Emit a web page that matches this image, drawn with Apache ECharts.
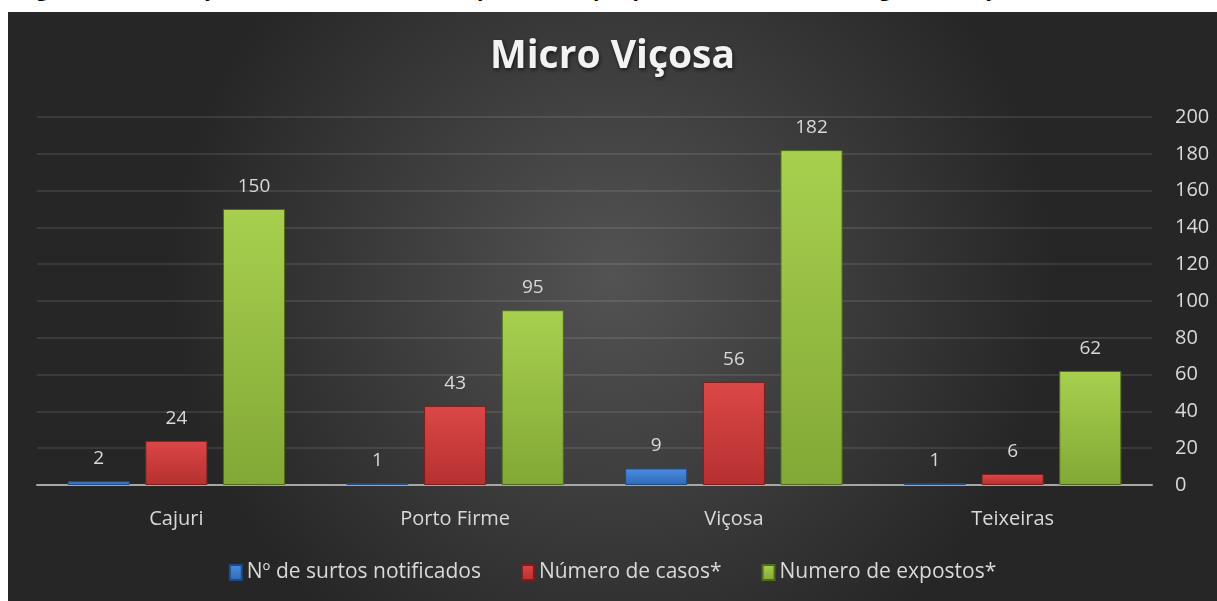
<!DOCTYPE html>
<html>
<head>
<meta charset="utf-8">
<script src="https://cdn.jsdelivr.net/npm/echarts@6/dist/echarts.min.js"></script>
<style>
    body { margin: 0; background: #fff; width: 1217px; height: 601px; overflow: hidden; position: relative; }
    #cap { position: absolute; left: 18px; top: -26px; font: bold 21px "Open Sans", sans-serif; color: #000; white-space: nowrap; letter-spacing: 0.3px; }
    #box { position: absolute; left: 8px; top: 12px; width: 1209px; height: 589px; }
</style>
</head>
<body>
<div id="cap">Figura 2: Notificação de surtos notificados por município pertencente à micro região de Viçosa</div>
<div id="box"></div>
<script>
var cidades = ['Cajuri', 'Porto Firme', 'Viçosa', 'Teixeiras'];
var surtos = [2, 1, 9, 1];
var casos = [24, 43, 56, 6];
var expostos = [150, 95, 182, 62];
var nomes = ['Nº de surtos notificados', 'Número de casos*', 'Numero de expostos*'];

function grad(c1, c2) {
    return {
        type: 'linear', x: 0, y: 0, x2: 0, y2: 1,
        colorStops: [{ offset: 0, color: c1 }, { offset: 1, color: c2 }]
    };
}

function serie(nome, dados, c1, c2, borda) {
    return {
        name: nome,
        type: 'bar',
        data: dados,
        barGap: '25%',
        barCategoryGap: '22%',
        itemStyle: {
            color: grad(c1, c2),
            borderColor: borda,
            borderWidth: 1
        },
        label: {
            show: true,
            position: 'top',
            distance: 13,
            color: '#d9d9d9',
            fontSize: 19,
            fontFamily: 'Open Sans'
        }
    };
}

var myChart = echarts.init(document.getElementById('box'));
var option = {
    backgroundColor: {
        type: 'radial', x: 0.5, y: 0.45, r: 0.75,
        colorStops: [{ offset: 0, color: '#535353' }, { offset: 1, color: '#262626' }]
    },
    textStyle: { fontFamily: 'Open Sans' },
    title: {
        text: 'Micro Viçosa',
        left: 'center',
        top: 20,
        textStyle: {
            color: '#f2f2f2',
            fontSize: 39,
            fontWeight: 'bold',
            fontFamily: 'Open Sans',
            textShadowColor: 'rgba(0,0,0,0.6)',
            textShadowBlur: 4,
            textShadowOffsetX: 1,
            textShadowOffsetY: 2
        }
    },
    legend: {
        data: nomes,
        bottom: 13,
        left: 'center',
        itemWidth: 12,
        itemHeight: 15,
        itemGap: 40,
        icon: 'rect',
        textStyle: { color: '#d9d9d9', fontSize: 21, fontFamily: 'Open Sans' }
    },
    grid: { left: 29, right: 65, top: 105, bottom: 116 },
    xAxis: {
        type: 'category',
        data: cidades,
        axisTick: { show: false },
        axisLine: { lineStyle: { color: '#a6a6a6', width: 2 } },
        axisLabel: { color: '#d9d9d9', fontSize: 20, margin: 24 }
    },
    yAxis: {
        type: 'value',
        position: 'right',
        min: 0,
        max: 200,
        interval: 20,
        axisLine: { show: false },
        axisTick: { show: false },
        axisLabel: { color: '#d9d9d9', fontSize: 20, margin: 23 },
        splitLine: { lineStyle: { color: 'rgba(255,255,255,0.13)', width: 1.5 } }
    },
    series: [
        serie(nomes[0], surtos, '#4a8ee0', '#2f69b5', '#1e4a85'),
        serie(nomes[1], casos, '#dc4747', '#b53030', '#7a1e1e'),
        serie(nomes[2], expostos, '#a8d04e', '#82a836', '#4f6a1c')
    ]
};
myChart.setOption(option);
</script>
</body>
</html>
